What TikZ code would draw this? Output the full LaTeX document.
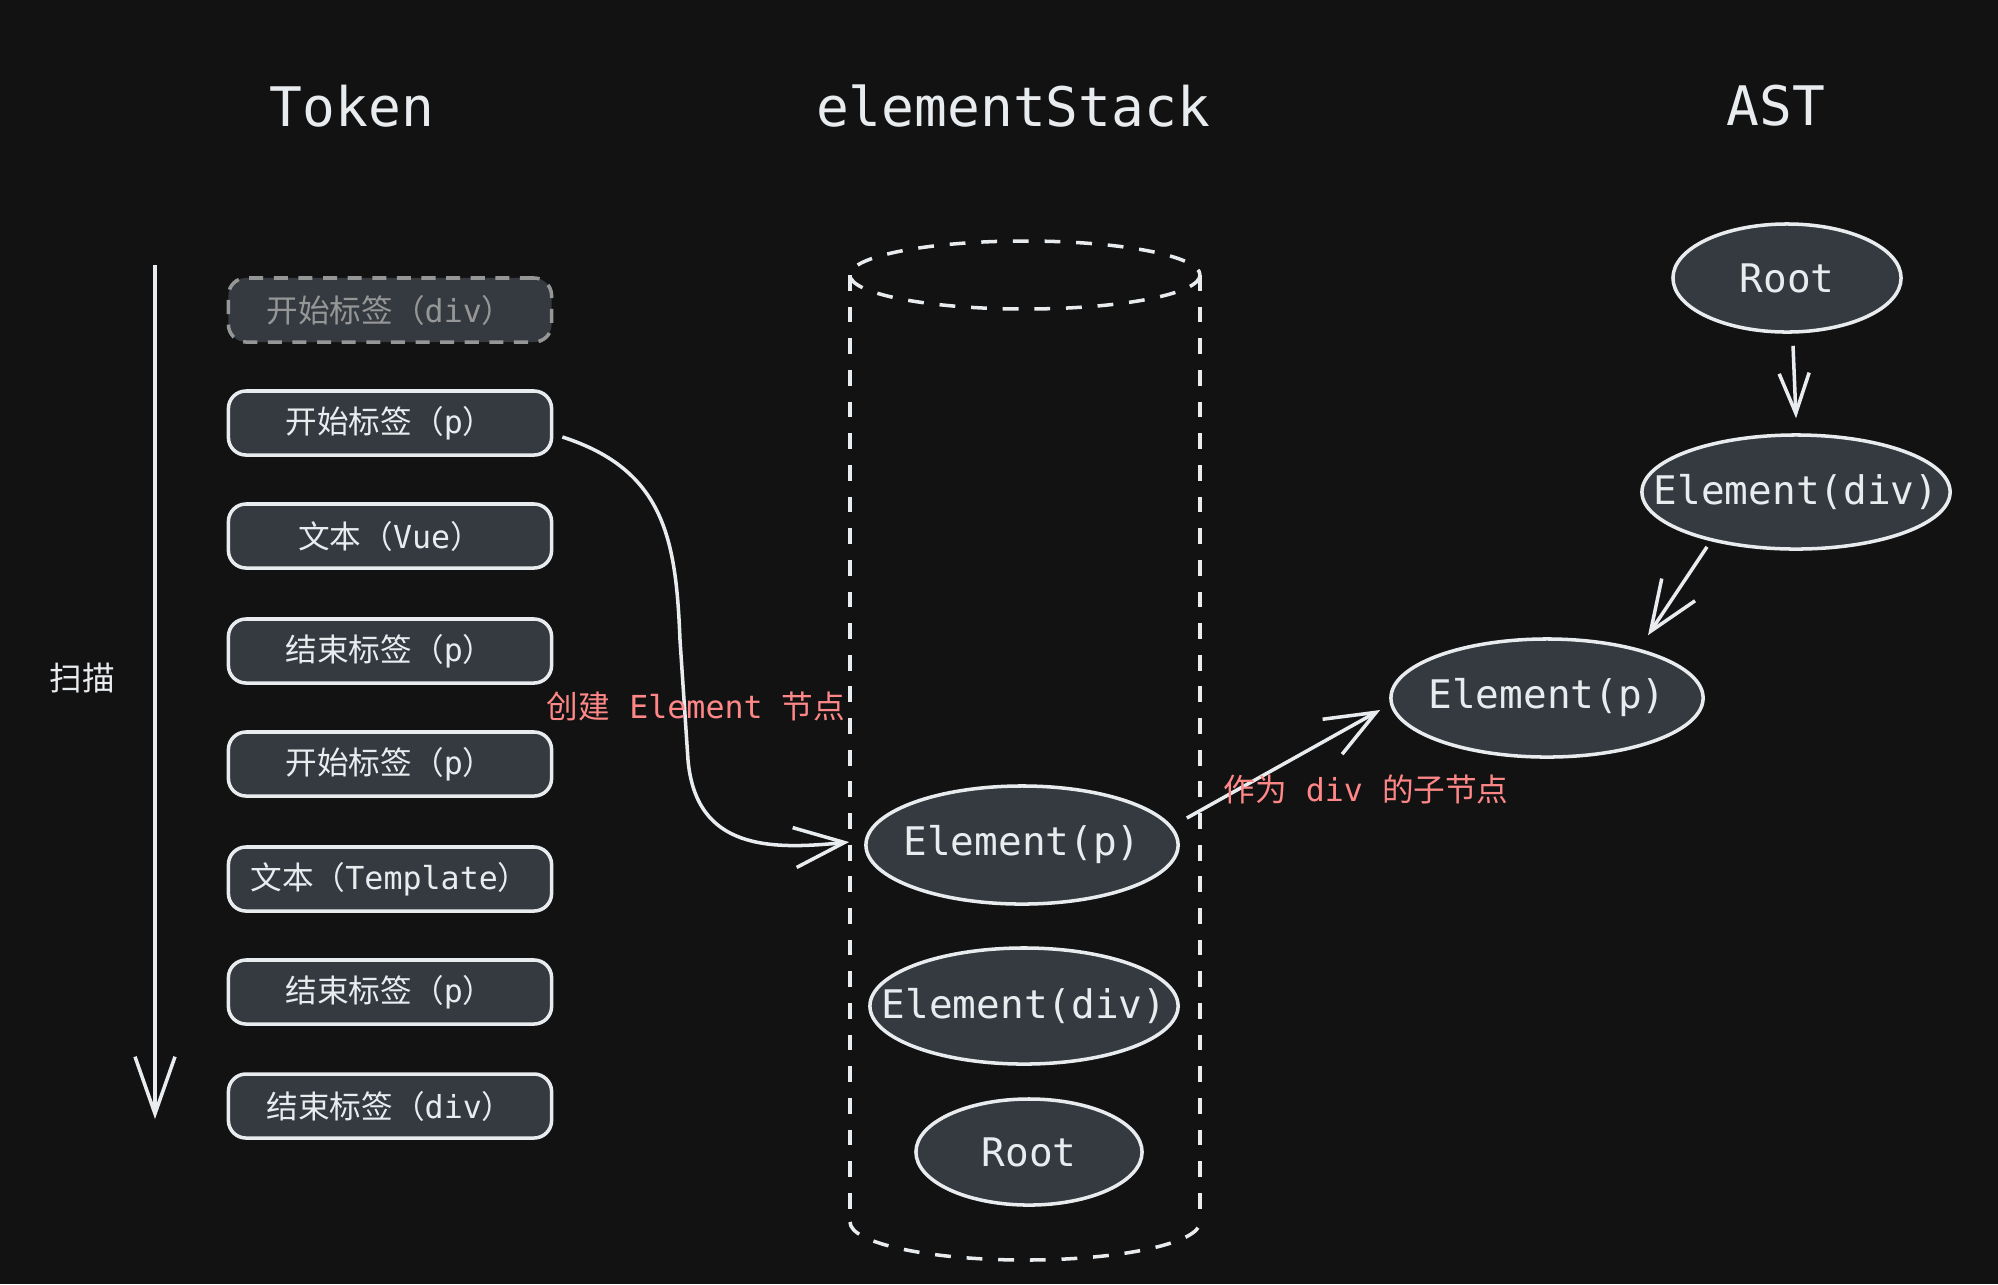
\documentclass[tikz,border=0pt]{standalone}
\usepackage{fontspec}
\setmonofont{DejaVu Sans Mono}
\newfontfamily\cjk{Noto Sans CJK SC}
\usetikzlibrary{shapes.geometric, arrows.meta, positioning}
\definecolor{canvasbg}{RGB}{18,18,18}
\definecolor{boxfill}{RGB}{52,58,64}
\definecolor{inkwhite}{RGB}{233,236,239}
\definecolor{inkgray}{RGB}{150,150,150}
\definecolor{notered}{RGB}{255,135,135}
\newcommand{\zw}[1]{\makebox[0pt]{#1}}
\newcommand{\tok}[2]{{\cjk #1（}#2{\cjk ）}}
\tikzset{
    tokenbox/.style={draw=inkwhite, fill=boxfill, rounded corners=5pt, line width=1pt, minimum width=3.23cm, minimum height=0.64cm, inner sep=0pt, text=inkwhite, font=\fontsize{9}{11}\selectfont\ttfamily},
    ghostbox/.style={tokenbox, draw=inkgray, text=inkgray, dash pattern=on 4pt off 3pt},
    elnode/.style={ellipse, draw=inkwhite, fill=boxfill, line width=1pt, inner sep=0pt, text=inkwhite, font=\fontsize{11.2}{13}\selectfont\ttfamily},
    coltitle/.style={text=inkwhite, font=\fontsize{15.5}{18}\selectfont\ttfamily},
    rednote/.style={text=notered, font=\fontsize{9}{11}\selectfont\ttfamily},
    sketcharrow/.style={-{Straight Barb[length=5mm, width=4mm]}, draw=inkwhite, line width=1pt},
    stackline/.style={draw=inkwhite, line width=1pt, dash pattern=on 4.5pt off 4.5pt},
}

\begin{document}
\begin{tikzpicture}[x=0.01cm, y=-0.01cm]
    \fill[canvasbg] (0,0) rectangle (1998,1284);
    \useasboundingbox (0,0) rectangle (1998,1284);

    % column titles
    \node[coltitle] (ttoken) at (352,106) {Token};
    \node[coltitle] (tstack) at (1013,106) {elementStack};
    \node[coltitle] (tast) at (1776,106) {AST};

    % scan direction
    \coordinate (scantop) at (155,265);
    \coordinate (scanend) at (155,1119);
    \draw[sketcharrow, -{Straight Barb[length=5.7mm, width=4mm]}] (scantop) -- (scanend);
    \node[text=inkwhite, font=\fontsize{9.3}{11}\selectfont\cjk] (scan) at (82,678) {扫描};

    % tokens
    \node[ghostbox] (t1) at (390,310) {\tok{开始标签}{div}};
    \node[tokenbox] (t2) at (390,423) {\tok{开始标签}{p}};
    \node[tokenbox] (t3) at (390,536) {\tok{文本}{Vue}};
    \node[tokenbox] (t4) at (390,651) {\tok{结束标签}{p}};
    \node[tokenbox] (t5) at (390,764) {\tok{开始标签}{p}};
    \node[tokenbox] (t6) at (390,879) {\tok{文本}{Template}};
    \node[tokenbox] (t7) at (390,992) {\tok{结束标签}{p}};
    \node[tokenbox] (t8) at (390,1106) {\tok{结束标签}{div}};

    % stack cylinder
    \draw[stackline] (1025,275) ellipse [x radius=175, y radius=34];
    \draw[stackline] (850,275) -- (850,1222);
    \draw[stackline] (1200,275) -- (1200,1222);
    \draw[stackline] (850,1222) arc [start angle=180, end angle=360, x radius=175, y radius=-38];

    % stack contents
    \node[elnode, minimum width=3.12cm, minimum height=1.18cm] (sp) at (1022,845) {\zw{Element(p)}};
    \node[elnode, minimum width=3.08cm, minimum height=1.16cm] (sd) at (1024,1006) {\zw{Element(div)}};
    \node[elnode, minimum width=2.26cm, minimum height=1.06cm] (sr) at (1029,1152) {\zw{Root}};

    % AST
    \node[elnode, minimum width=2.28cm, minimum height=1.08cm] (ar) at (1787,278) {\zw{Root}};
    \node[elnode, minimum width=3.08cm, minimum height=1.14cm] (ad) at (1796,492) {\zw{Element(div)}};
    \node[elnode, minimum width=3.12cm, minimum height=1.18cm] (ap) at (1547,698) {\zw{Element(p)}};

    % connectors
    \draw[sketcharrow] ([shift={(9,14)}]t2.east) .. controls (665,470) and (676,540) .. (680,640)
        -- (688,760) .. controls (696,850) and (770,850) .. ([shift={(-15,-3)}]sp.west);
    \node[rednote] (lcreate) at (696,706) {{\cjk 创建} Element {\cjk 节点}};

    \draw[sketcharrow] ([shift={(7,-27)}]sp.east) -- ([shift={(-9,12)}]ap.west);
    \node[rednote] (lchild) at (1366,789) {{\cjk 作为} div {\cjk 的子节点}};

    \draw[sketcharrow, -{Straight Barb[length=4mm, width=3mm]}] ([shift={(6,12)}]ar.south) -- ([shift={(0,-15)}]ad.north);
    \draw[sketcharrow] ([shift={(-89,-4)}]ad.south) -- ([shift={(101,-2)}]ap.north);
\end{tikzpicture}
\end{document}
